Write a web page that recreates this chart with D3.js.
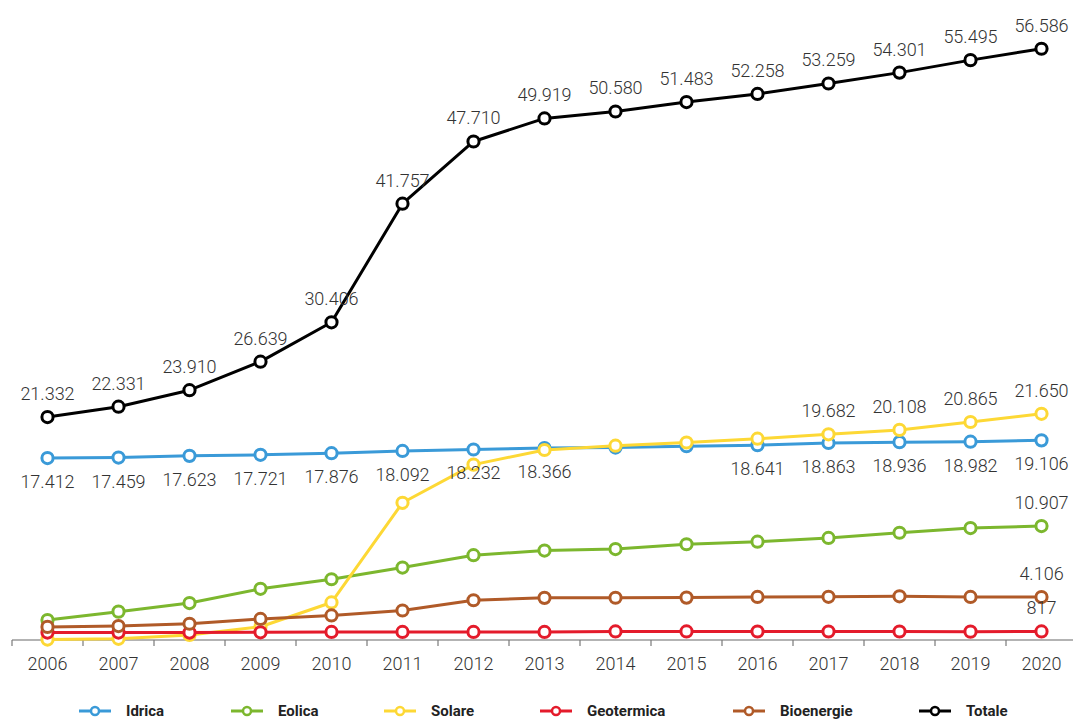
<!DOCTYPE html>
<html>
<head>
<meta charset="utf-8">
<script src="https://cdn.jsdelivr.net/npm/d3@7"></script>
<style>
  html, body { margin: 0; padding: 0; background: #fff; }
  svg { display: block; }
  text { font-family: Roboto, "Open Sans", sans-serif; }
</style>
</head>
<body>
<svg id="chart" width="1073" height="720"></svg>
<script>
// ---- data (MW) ----
const years = [2006, 2007, 2008, 2009, 2010, 2011, 2012, 2013, 2014, 2015, 2016, 2017, 2018, 2019, 2020];
const idrica     = [17412, 17459, 17623, 17721, 17876, 18092, 18232, 18366, 18418, 18543, 18641, 18863, 18936, 18982, 19106];
const eolica     = [1908, 2714, 3538, 4898, 5814, 6936, 8119, 8561, 8703, 9162, 9410, 9766, 10265, 10715, 10907];
const solare     = [45, 111, 483, 1264, 3592, 13131, 16785, 18185, 18594, 18900, 19268, 19682, 20108, 20865, 21650];
const geotermica = [711, 711, 711, 737, 772, 772, 772, 773, 821, 821, 815, 813, 813, 800, 817];
const bioenergie = [1256, 1336, 1555, 2019, 2352, 2825, 3802, 4033, 4044, 4057, 4124, 4135, 4180, 4122, 4106];
const totale     = [21332, 22331, 23910, 26639, 30406, 41757, 47710, 49919, 50580, 51483, 52258, 53259, 54301, 55495, 56586];
const seriesNames = ["Idrica", "Eolica", "Solare", "Geotermica", "Bioenergie", "Totale"];

// which points carry a value label, and on which side
const labelSpec = {
  "Idrica":     { idx: [0,1,2,3,4,5,6,7,10,11,12,13,14], side: "below" },
  "Eolica":     { idx: [14], side: "above" },
  "Solare":     { idx: [11,12,13,14], side: "above" },
  "Geotermica": { idx: [14], side: "above" },
  "Bioenergie": { idx: [14], side: "above" },
  "Totale":     { idx: years.map((d, i) => i), side: "above" }
};

const colors = {
  "Idrica": "#3a9ad8",
  "Eolica": "#7cb72e",
  "Solare": "#fdd835",
  "Geotermica": "#e41b2b",
  "Bioenergie": "#b05a28",
  "Totale": "#000000"
};

const seriesValues = { "Idrica": idrica, "Eolica": eolica, "Solare": solare,
  "Geotermica": geotermica, "Bioenergie": bioenergie, "Totale": totale };

const series = seriesNames.map(name => ({
  name,
  values: years.map((y, i) => ({ year: y, value: seriesValues[name][i] / 1000, raw: seriesValues[name][i], i }))
}));

const fmt = d3.formatLocale({ decimal: ",", thousands: ".", grouping: [3], currency: ["", "€"] }).format(",d");

// ---- layout ----
const svg = d3.select("#chart");
const W = 1073;
const x = d3.scaleBand().domain(years).range([12, 1077]).paddingInner(0).paddingOuter(0);
const cx = d => x(d) + x.bandwidth() / 2;
const y = d3.scaleLinear().domain([0, 61.25]).range([640, 0]);

// axis line + ticks
const axisY = y(0);
const axisG = svg.append("g");
axisG.append("line")
  .attr("x1", x(years[0])).attr("x2", W)
  .attr("y1", axisY).attr("y2", axisY)
  .attr("stroke", "#9a9a9a").attr("stroke-width", 1.5);
axisG.selectAll("line.tick").data(years).enter().append("line")
  .attr("class", "tick")
  .attr("x1", d => x(d)).attr("x2", d => x(d))
  .attr("y1", axisY).attr("y2", axisY + 6)
  .attr("stroke", "#7a7a7a").attr("stroke-width", 1.2);

const xAxis = d3.axisBottom(x).tickSize(0).tickPadding(0);
const xg = svg.append("g").attr("transform", `translate(0,${axisY})`).call(xAxis);
xg.select(".domain").remove();
xg.selectAll("text")
  .attr("dy", null)
  .attr("y", 30)
  .attr("font-size", 18)
  .attr("font-weight", 300)
  .attr("font-family", "Roboto, sans-serif")
  .attr("fill", "#333");

// lines
const line = d3.line().x(d => cx(d.year)).y(d => y(d.value));
const plot = svg.append("g");
series.forEach(s => {
  const g = plot.append("g");
  g.append("path")
    .datum(s.values)
    .attr("d", line)
    .attr("fill", "none")
    .attr("stroke", colors[s.name])
    .attr("stroke-width", 3)
    .attr("stroke-linejoin", "round");
  g.selectAll("circle").data(s.values).enter().append("circle")
    .attr("cx", d => cx(d.year))
    .attr("cy", d => y(d.value))
    .attr("r", 5.6)
    .attr("fill", "#fff")
    .attr("stroke", colors[s.name])
    .attr("stroke-width", 3);
});

// value labels
const labels = svg.append("g");
series.forEach(s => {
  const spec = labelSpec[s.name];
  const pts = s.values.filter(d => spec.idx.includes(d.i));
  labels.selectAll(null).data(pts).enter().append("text")
    .attr("x", d => cx(d.year))
    .attr("y", d => spec.side === "above" ? y(d.value) - 17 : y(d.value) + 30)
    .attr("text-anchor", "middle")
    .attr("font-size", 18)
    .attr("font-weight", 300)
    .attr("fill", "#333")
    .text(d => fmt(d.raw));
});

// legend
const legendX = { "Idrica": 79, "Eolica": 231, "Solare": 384, "Geotermica": 540, "Bioenergie": 733, "Totale": 919 };
const legY = 711;
const leg = svg.append("g");
seriesNames.forEach(name => {
  const g = leg.append("g").attr("transform", `translate(${legendX[name]},${legY})`);
  g.append("line").attr("x1", 0).attr("x2", 32).attr("y1", 0).attr("y2", 0)
    .attr("stroke", colors[name]).attr("stroke-width", 3);
  g.append("circle").attr("cx", 16).attr("cy", 0).attr("r", 4)
    .attr("fill", "#fff").attr("stroke", colors[name]).attr("stroke-width", 2.5);
  g.append("text").attr("x", 47).attr("y", 4.5)
    .attr("font-size", 15).attr("font-weight", "bold")
    .attr("fill", "#222")
    .text(name);
});
</script>
</body>
</html>
